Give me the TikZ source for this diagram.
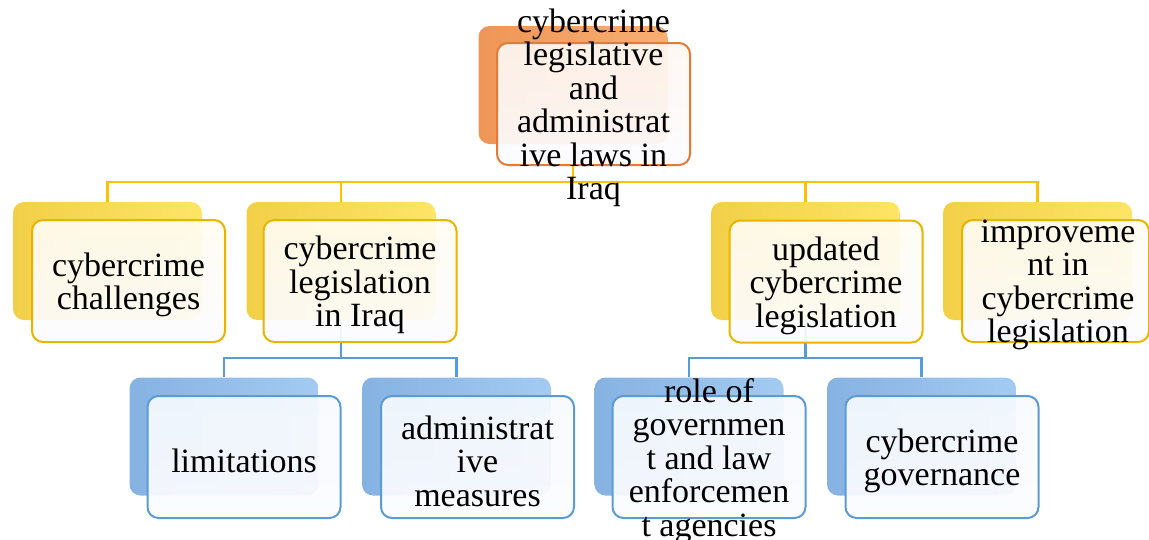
\documentclass[tikz,border=0pt]{standalone}
\usepackage{fontspec}
\setmainfont{Liberation Serif}
\begin{document}
\definecolor{ORb}{HTML}{F8AE74}
\definecolor{ORd}{HTML}{EE9656}
\definecolor{ORl}{HTML}{E07B39}
\definecolor{YEb}{HTML}{FFE466}
\definecolor{YEd}{HTML}{F2CF48}
\definecolor{YEl}{HTML}{FFC000}
\definecolor{YEe}{HTML}{E8B400}
\definecolor{BLb}{HTML}{A3CBF2}
\definecolor{BLd}{HTML}{86B2E2}
\definecolor{BLl}{HTML}{5B9BD5}
\begin{tikzpicture}[x=1pt,y=-1pt,
  backbox/.style={rounded corners=11pt,minimum width=189pt,minimum height=118pt,inner sep=0pt,draw=none},
  frontbox/.style={rounded corners=11pt,minimum width=193pt,minimum height=122pt,inner sep=0pt,line width=2pt,fill opacity=0.92,draw opacity=1},
  obk/.style={backbox,left color=ORd,right color=ORb},
  ybk/.style={backbox,left color=YEd,right color=YEb},
  bbk/.style={backbox,left color=BLd,right color=BLb},
  ofr/.style={frontbox,draw=ORl,top color=white!90!ORb,bottom color=white!97!blue!40!white},
  yfr/.style={frontbox,draw=YEe,top color=white!91!YEb,bottom color=white!97!blue!40!white},
  bfr/.style={frontbox,draw=BLl,top color=white!91!BLb,bottom color=white!97!blue!40!white},
  txt/.style={align=center,inner sep=0pt,font={\fontsize{34}{33.5}\selectfont},text=black,yshift=-4pt},
  yline/.style={draw=YEl,line width=2.4pt},
  bline/.style={draw=BLl,line width=2.4pt}]
\useasboundingbox (0,0) rectangle (1149,539);
% back box positions (for connectors)
\path (573,85) node[backbox] (b0) {};
\path (107.5,261) node[backbox] (b1) {};
\path (341,261) node[backbox] (b2) {};
\path (805.5,261) node[backbox] (b3) {};
\path (1037.5,261) node[backbox] (b4) {};
\path (224,436.5) node[backbox] (c1) {};
\path (456.5,436.5) node[backbox] (c2) {};
\path (689,436.5) node[backbox] (c3) {};
\path (921.5,436.5) node[backbox] (c4) {};
% connectors
\foreach \n in {b1,b2,b3,b4} \draw[yline] (b0.south) -- ++(0,38) -| (\n.north);
\foreach \n in {c1,c2} \draw[bline] (b2.south) -- ++(0,38) -| (\n.north);
\foreach \n in {c3,c4} \draw[bline] (b3.south) -- ++(0,38) -| (\n.north);
% boxes
\node[obk] at (b0) {};
\node[ofr] (f0) at (593.5,104) {};
\node[txt] (t0) at (f0.center) {cybercrime\\legislative\\and\\administrat\\ive laws in\\Iraq};

\node[ybk] at (b1) {};
\node[yfr] (f1) at (128.5,281) {};
\node[txt] (t1) at (f1.center) {cybercrime\\challenges};

\node[ybk] at (b2) {};
\node[yfr] (f2) at (360,281) {};
\node[txt] (t2) at (f2.center) {cybercrime\\legislation\\in Iraq};

\node[ybk] at (b3) {};
\node[yfr] (f3) at (826,281.5) {};
\node[txt] (t3) at (f3.center) {updated\\cybercrime\\legislation};

\node[ybk] at (b4) {};
\node[yfr,minimum width=187pt] (f4) at (1055.5,281) {};
\node[txt] (t4) at (1058,281) {improveme\\nt in\\cybercrime\\legislation};

\node[bbk] at (c1) {};
\node[bfr] (g1) at (244,457) {};
\node[txt] (s1) at (g1.center) {limitations};

\node[bbk] at (c2) {};
\node[bfr] (g2) at (477.5,457) {};
\node[txt] (s2) at (g2.center) {administrat\\ive\\measures};

\node[bbk] at (c3) {};
\node[bfr] (g3) at (709,457) {};
\node[txt] (s3) at (g3.center) {role of\\governmen\\t and law\\enforcemen\\t agencies};

\node[bbk] at (c4) {};
\node[bfr] (g4) at (942,457) {};
\node[txt] (s4) at (g4.center) {cybercrime\\governance};
\end{tikzpicture}
\end{document}
